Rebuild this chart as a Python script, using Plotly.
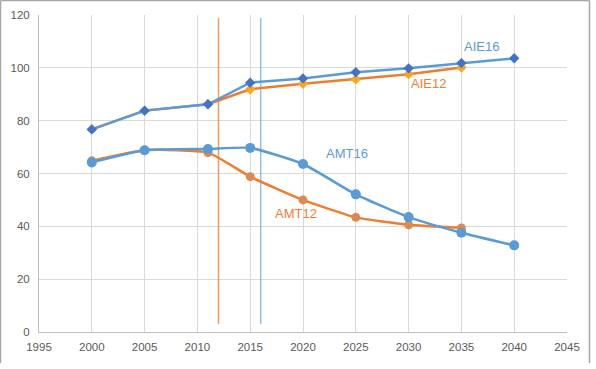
import plotly.graph_objects as go

years16 = [2000, 2005, 2011, 2015, 2020, 2025, 2030, 2035, 2040]
years12 = [2000, 2005, 2011, 2015, 2020, 2025, 2030, 2035]
aie16 = [76.7, 83.8, 86.2, 94.4, 96.0, 98.3, 99.8, 101.8, 103.6]
aie12 = [76.7, 83.8, 86.2, 91.9, 94.0, 95.7, 97.6, 100.1]
amt16 = [64.2, 68.8, 69.3, 69.7, 63.6, 52.1, 43.5, 37.6, 32.8]
amt12 = [64.8, 68.8, 67.9, 58.8, 50.0, 43.4, 40.6, 39.4]
vline12_x = [2012, 2012]
vline16_x = [2016, 2016]
vline_y = [3, 119]

BLUE = "#5B9BD5"
ORANGE = "#ED7D31"

fig = go.Figure()
fig.add_trace(go.Scatter(x=vline12_x, y=vline_y, mode="lines",
                         line=dict(color="#F19A5E", width=1.5), hoverinfo="skip"))
fig.add_trace(go.Scatter(x=vline16_x, y=vline_y, mode="lines",
                         line=dict(color="#7FB0DE", width=1.2), hoverinfo="skip"))
fig.add_trace(go.Scatter(x=years12, y=amt12, mode="lines+markers", name="AMT12",
                         line=dict(color=ORANGE, width=2.5, shape="spline", smoothing=0.5),
                         marker=dict(symbol="circle", size=9, color="#D98A55")))
fig.add_trace(go.Scatter(x=years16, y=amt16, mode="lines+markers", name="AMT16",
                         line=dict(color=BLUE, width=2.5, shape="spline", smoothing=0.5),
                         marker=dict(symbol="circle", size=10, color=BLUE)))
fig.add_trace(go.Scatter(x=years12, y=aie12, mode="lines+markers", name="AIE12",
                         line=dict(color=ORANGE, width=2.5),
                         marker=dict(symbol="diamond", size=8, color="#F5A623")))
fig.add_trace(go.Scatter(x=years16, y=aie16, mode="lines+markers", name="AIE16",
                         line=dict(color=BLUE, width=2.5),
                         marker=dict(symbol="diamond", size=8, color="#4472C4")))

labels = [("AIE16", 2036.9, 108.1, BLUE), ("AIE12", 2031.9, 93.9, ORANGE),
          ("AMT16", 2024.2, 67.5, BLUE), ("AMT12", 2019.3, 45.0, ORANGE)]
for txt, x, y, c in labels:
    fig.add_annotation(x=x, y=y, text=txt, showarrow=False,
                       font=dict(color=c, size=13, family="Liberation Sans"))

border = "#A6A6A6"
for x0, y0, x1, y1 in [(0.5, 0.5, 589.5, 0.5), (0.5, 0.5, 0.5, 363), (589.5, 0.5, 589.5, 363)]:
    fig.add_shape(type="line", xref="paper", yref="paper",
                  x0=(x0 - 39) / 528, x1=(x1 - 39) / 528,
                  y0=(332 - y0) / 317, y1=(332 - y1) / 317,
                  line=dict(color=border, width=1.5))

fig.update_layout(
    width=596, height=369,
    margin=dict(l=39, r=29, t=15, b=37, autoexpand=False),
    plot_bgcolor="white", paper_bgcolor="white",
    showlegend=False,
    font=dict(family="Liberation Sans", size=11.5, color="#595959"),
)
fig.update_xaxes(range=[1995, 2045], dtick=5, tick0=1995, showgrid=True,
                 gridcolor="#D9D9D9", gridwidth=1, showline=True, linecolor="#BFBFBF",
                 linewidth=1, zeroline=False, ticks="", mirror=False, automargin=False,
                 ticklabelstandoff=4)
fig.update_yaxes(range=[0, 120], dtick=20, showgrid=True, gridcolor="#D9D9D9",
                 gridwidth=1, showline=True, linecolor="#BFBFBF", linewidth=1,
                 zeroline=False, ticks="", ticklabelstandoff=6, automargin=False)

fig.write_html("out.html", config={"displayModeBar": False},
               post_script="document.body.style.margin='0';document.body.style.overflow='hidden';")
